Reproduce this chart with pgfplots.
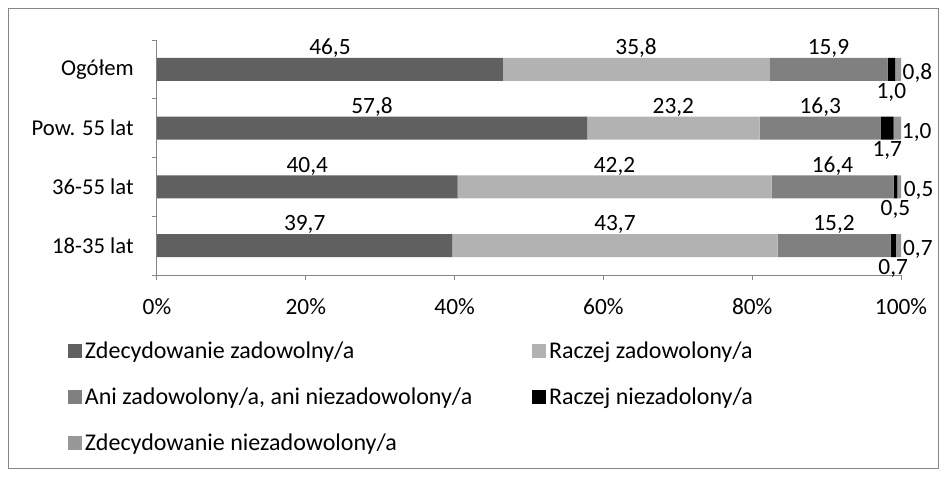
\documentclass[border=0pt]{standalone}
\usepackage{pgfplots}
\usepackage{pgfplotstable}
\usepackage{fontspec}
\setmainfont{Carlito}
\pgfplotsset{compat=1.18}

\definecolor{c1}{HTML}{606060}
\definecolor{c2}{HTML}{B2B2B2}
\definecolor{c3}{HTML}{808080}
\definecolor{c4}{HTML}{000000}
\definecolor{c5}{HTML}{989898}
\definecolor{axgray}{HTML}{868686}

% y: 1 = 18-35 lat, 2 = 36-55 lat, 3 = Pow. 55 lat, 4 = Ogolem
\pgfplotstableread{
y v
1 39.7
2 40.4
3 57.8
4 46.5
}\zadowolny
\pgfplotstableread{
y v
1 43.7
2 42.2
3 23.2
4 35.8
}\raczejzad
\pgfplotstableread{
y v
1 15.2
2 16.4
3 16.3
4 15.9
}\ani
\pgfplotstableread{
y v
1 0.7
2 0.5
3 1.7
4 1.0
}\raczejniez
\pgfplotstableread{
y v
1 0.7
2 0.5
3 1.0
4 0.8
}\niezad

\begin{document}
\begin{tikzpicture}[font=\fontsize{17}{20}\selectfont]
\useasboundingbox (0,0) rectangle (709.5pt,357pt);
\draw[color=axgray, line width=0.75pt] (6pt,6pt) rectangle (703.5pt,350.25pt);
\begin{axis}[
  at={(117.75pt,150.75pt)}, anchor=south west,
  scale only axis,
  width=558pt, height=176.25pt,
  xbar stacked,
  bar width=17.25pt,
  xmin=0, xmax=100,
  ymin=0.5, ymax=4.5,
  axis x line=bottom,
  axis y line=left,
  axis line style={draw=axgray, line width=0.75pt, -},
  tick style={draw=axgray, line width=0.75pt},
  tick align=outside,
  major tick length=0pt,
  minor tick length=3.75pt,
  xtick={0,20,40,60,80,100},
  minor xtick={0,20,40,60,80,100},
  xticklabel={\pgfmathprintnumber[assume math mode=true]{\tick}\%},
  xticklabel style={yshift=-14pt, font=\fontsize{17.5}{20}\selectfont},
  ytick={1,2,3,4},
  minor ytick={0.5,1.5,2.5,3.5,4.5},
  yticklabels={18-35 lat,36-55 lat,Pow. 55 lat,Ogółem},
  yticklabel style={xshift=-14pt},
  point meta=explicit,
  nodes near coords={\pgfmathprintnumber[fixed, fixed zerofill, precision=1, use comma, assume math mode=true]{\pgfplotspointmeta}},
  every node near coord/.append style={font=\fontsize{17.5}{20}\selectfont},
  legend columns=2,
  legend cell align=left,
  legend style={at={(axis description cs:-0.1196,-0.27)}, anchor=north west,
    draw=none, fill=none, inner sep=0pt, row sep=16.5pt,
    font=\fontsize{18}{21}\selectfont,
    /tikz/every even column/.append style={column sep=43pt}},
  legend image code/.code={\fill[#1] (0pt,-5.25pt) rectangle (10.5pt,5.25pt);},
]
\addplot[fill=c1, draw=none,
  every node near coord/.append style={anchor=base, yshift=11pt}]
  table[x=v, y=y, meta=v] {\zadowolny};
\addplot[fill=c2, draw=none,
  every node near coord/.append style={anchor=base, yshift=11pt}]
  table[x=v, y=y, meta=v] {\raczejzad};
\addplot[fill=c3, draw=none,
  every node near coord/.append style={anchor=base, yshift=11pt}]
  table[x=v, y=y, meta=v] {\ani};
\addplot[fill=c4, draw=none,
  every node near coord/.append style={anchor=base, yshift=-21.5pt}]
  table[x=v, y=y, meta=v] {\raczejniez};
\addplot[fill=c5, draw=none,
  every node near coord/.append style={anchor=base west, yshift=-7.5pt}]
  table[x=v, y=y, meta=v] {\niezad};
\legend{Zdecydowanie zadowolny/a, Raczej zadowolony/a,
  {Ani zadowolony/a, ani niezadowolony/a}, Raczej niezadolony/a,
  Zdecydowanie niezadowolony/a}
\end{axis}
\end{tikzpicture}
\end{document}
